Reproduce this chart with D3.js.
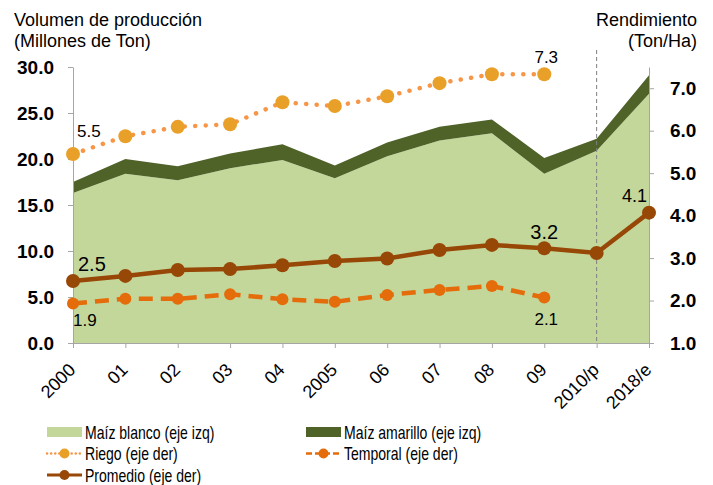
<!DOCTYPE html>
<html>
<head>
<meta charset="utf-8">
<script src="https://cdn.jsdelivr.net/npm/d3@7"></script>
<style>
  body { margin: 0; background: #fff; }
  svg { font-family: "Liberation Sans", Arial, sans-serif; }
</style>
</head>
<body>
<script>
// data
const years = ['2000', '01', '02', '03', '04', '2005', '06', '07', '08', '09', '2010/p', '2018/e']
const maizBlanco = [16.3, 18.4, 17.7, 19.0, 19.9, 17.9, 20.3, 22.0, 22.8, 18.4, 20.9, 27.1]
const maizAmarillo = [1.2, 1.6, 1.5, 1.6, 1.7, 1.4, 1.5, 1.5, 1.5, 1.7, 1.3, 2.0]
const riego = [5.45, 5.87, 6.09, 6.15, 6.67, 6.58, 6.81, 7.12, 7.33, 7.33]
const temporal = [1.93, 2.04, 2.04, 2.15, 2.03, 1.97, 2.13, 2.25, 2.34, 2.07]
const promedio = [2.46, 2.58, 2.72, 2.74, 2.83, 2.93, 2.99, 3.19, 3.31, 3.23, 3.12, 4.07]
const leftTicks = [0, 5, 10, 15, 20, 25, 30]
const rightTicks = [1, 2, 3, 4, 5, 6, 7]

const width = 713, height = 485
const svg = d3.select('body').append('svg')
    .attr('width', width)
    .attr('height', height)

const x = d3.scalePoint().domain(years).range([73, 649])
const yL = d3.scaleLinear().domain([0, 30]).range([343, 67])
const yR = d3.scaleLinear().domain([1, 7.5]).range([343, 67])

const colBlanco = '#c4d79b', colAmarillo = '#4f6228'
const colRiegoLine = '#f79646', colRiego = '#e9a028'
const colTemporal = '#e46c0a', colPromedio = '#974706'

// stacked areas
const rows = years.map((y, i) => ({year: y, blanco: maizBlanco[i], amarillo: maizAmarillo[i]}))
const stack = d3.stack().keys(['blanco', 'amarillo'])(rows)
const area = d3.area()
    .x(d => x(d.data.year))
    .y0(d => yL(d[0]))
    .y1(d => yL(d[1]))
svg.selectAll('.area')
    .data(stack)
    .enter()
    .append('path')
    .attr('class', 'area')
    .attr('d', area)
    .attr('fill', (d, i) => i == 0 ? colBlanco : colAmarillo)

// dashed divider at 2010/p
svg.append('line')
    .attr('x1', x('2010/p')).attr('x2', x('2010/p'))
    .attr('y1', 50).attr('y2', yL(0))
    .attr('stroke', '#7f7f7f')
    .attr('stroke-width', 1)
    .attr('stroke-dasharray', '4,3')

// axes
function styleAxis(g){
    g.select('.domain').attr('stroke', '#a6a6a6')
    g.selectAll('.tick line').attr('stroke', '#a6a6a6')
    g.selectAll('.tick text')
        .attr('fill', '#000')
        .attr('font-size', '19px')
        .attr('font-weight', 'bold')
        .attr('font-family', '"Liberation Sans", Arial, sans-serif')
}
svg.append('g')
    .attr('transform', 'translate(73,0)')
    .call(d3.axisLeft(yL).tickValues(leftTicks).tickFormat(d3.format('.1f')).tickSize(5).tickSizeOuter(0).tickPadding(14))
    .call(styleAxis)
svg.append('g')
    .attr('transform', 'translate(649,0)')
    .call(d3.axisRight(yR).tickValues(rightTicks).tickFormat(d3.format('.1f')).tickSize(5).tickSizeOuter(0).tickPadding(16))
    .call(styleAxis)

const xAxis = svg.append('g')
    .attr('transform', 'translate(0,343)')
    .call(d3.axisBottom(x).tickSize(5).tickSizeOuter(0))
xAxis.select('.domain').attr('stroke', '#a6a6a6')
xAxis.selectAll('.tick line').attr('stroke', '#a6a6a6')
xAxis.selectAll('.tick text')
    .attr('font-size', '18px')
    .attr('font-family', '"Liberation Sans", Arial, sans-serif')
    .attr('fill', '#000')
    .attr('text-anchor', 'end')
    .attr('y', 0).attr('dy', 0)
    .attr('transform', 'translate(3,28) rotate(-45)')

// lines
const riegoPts = riego.map((v, i) => [x(years[i]), yR(v)])
const tempPts = temporal.map((v, i) => [x(years[i]), yR(v)])
const promPts = promedio.map((v, i) => [x(years[i]), yR(v)])
const line = d3.line()

svg.append('path')
    .attr('d', line(riegoPts))
    .attr('fill', 'none')
    .attr('stroke', colRiegoLine)
    .attr('stroke-width', 4.5)
    .attr('stroke-linecap', 'round')
    .attr('stroke-dasharray', '0.1,10.4')
svg.selectAll('.riego')
    .data(riegoPts)
    .enter()
    .append('circle')
    .attr('class', 'riego')
    .attr('cx', d => d[0]).attr('cy', d => d[1])
    .attr('r', 7)
    .attr('fill', colRiego)

svg.append('path')
    .attr('d', line(tempPts))
    .attr('fill', 'none')
    .attr('stroke', colTemporal)
    .attr('stroke-width', 4.5)
    .attr('stroke-dasharray', '14,8')
svg.selectAll('.temp')
    .data(tempPts)
    .enter()
    .append('circle')
    .attr('class', 'temp')
    .attr('cx', d => d[0]).attr('cy', d => d[1])
    .attr('r', 6)
    .attr('fill', colTemporal)

svg.append('path')
    .attr('d', line(promPts))
    .attr('fill', 'none')
    .attr('stroke', colPromedio)
    .attr('stroke-width', 4.5)
svg.selectAll('.prom')
    .data(promPts)
    .enter()
    .append('circle')
    .attr('class', 'prom')
    .attr('cx', d => d[0]).attr('cy', d => d[1])
    .attr('r', 7)
    .attr('fill', colPromedio)

// value labels
function label(txt, xx, yy, size, anchor){
    svg.append('text')
        .text(txt)
        .attr('x', xx).attr('y', yy)
        .attr('font-size', size)
        .attr('text-anchor', anchor || 'middle')
        .attr('fill', '#000')
}
label(d3.format('.1f')(riego[0]), x(years[0]) + 4, yR(riego[0]) - 17, '17px', 'start')
label(d3.format('.1f')(riego[9]), x(years[9]) + 2, yR(riego[9]) - 11, '17px')
label(d3.format('.1f')(temporal[0]), x(years[0]), yR(temporal[0]) + 22, '17px', 'start')
label(d3.format('.1f')(temporal[9]), x(years[9]) + 2, yR(temporal[9]) + 27, '17px')
label(d3.format('.1f')(promedio[0]), x(years[0]) + 5, yR(promedio[0]) - 10, '20px', 'start')
label(d3.format('.1f')(promedio[9]), x(years[9]), yR(promedio[9]) - 9, '20px')
label(d3.format('.1f')(promedio[11]), x(years[11]) - 2, yR(promedio[11]) - 11, '18px', 'end')

// axis titles
const titles = svg.append('g').attr('font-size', '18px').attr('fill', '#000')
titles.append('text').text('Volumen de producción').attr('x', 14).attr('y', 26)
titles.append('text').text('(Millones de Ton)').attr('x', 14).attr('y', 47)
titles.append('text').text('Rendimiento').attr('x', 697).attr('y', 26).attr('text-anchor', 'end')
titles.append('text').text('(Ton/Ha)').attr('x', 697).attr('y', 47).attr('text-anchor', 'end')

// legend
const legendItems = [
    {name: 'Maíz blanco (eje izq)', type: 'area', color: colBlanco, col: 0, row: 0},
    {name: 'Maíz amarillo  (eje izq)', type: 'area', color: colAmarillo, col: 1, row: 0},
    {name: 'Riego (eje der)', type: 'dot', color: colRiego, line: colRiegoLine, col: 0, row: 1},
    {name: 'Temporal (eje der)', type: 'dash', color: colTemporal, line: colTemporal, col: 1, row: 1},
    {name: 'Promedio (eje der)', type: 'solid', color: colPromedio, line: colPromedio, col: 0, row: 2}
]
const legendX = [47, 306]
const legendY = [432, 453.5, 475]
const lg = svg.selectAll('.legend')
    .data(legendItems)
    .enter()
    .append('g')
    .attr('class', 'legend')
    .attr('transform', d => `translate(${legendX[d.col]},${legendY[d.row]})`)
lg.filter(d => d.type == 'area')
    .append('rect')
    .attr('x', 0).attr('y', -5)
    .attr('width', 35).attr('height', 10)
    .attr('fill', d => d.color)
lg.filter(d => d.type != 'area')
    .append('line')
    .attr('x1', 0).attr('x2', 35)
    .attr('stroke', d => d.line)
    .attr('stroke-width', d => d.type == 'solid' ? 3 : 2.5)
    .attr('stroke-linecap', d => d.type == 'dot' ? 'round' : 'butt')
    .attr('stroke-dasharray', d => d.type == 'dot' ? '0.1,4' : d.type == 'dash' ? '6,3' : null)
lg.filter(d => d.type != 'area')
    .append('circle')
    .attr('cx', 17.5).attr('r', 5)
    .attr('fill', d => d.color)
lg.append('text')
    .text(d => d.name)
    .attr('font-size', '18px')
    .attr('fill', '#000')
    .attr('transform', 'translate(38,6.5) scale(0.78,1)')
</script>
</body>
</html>
